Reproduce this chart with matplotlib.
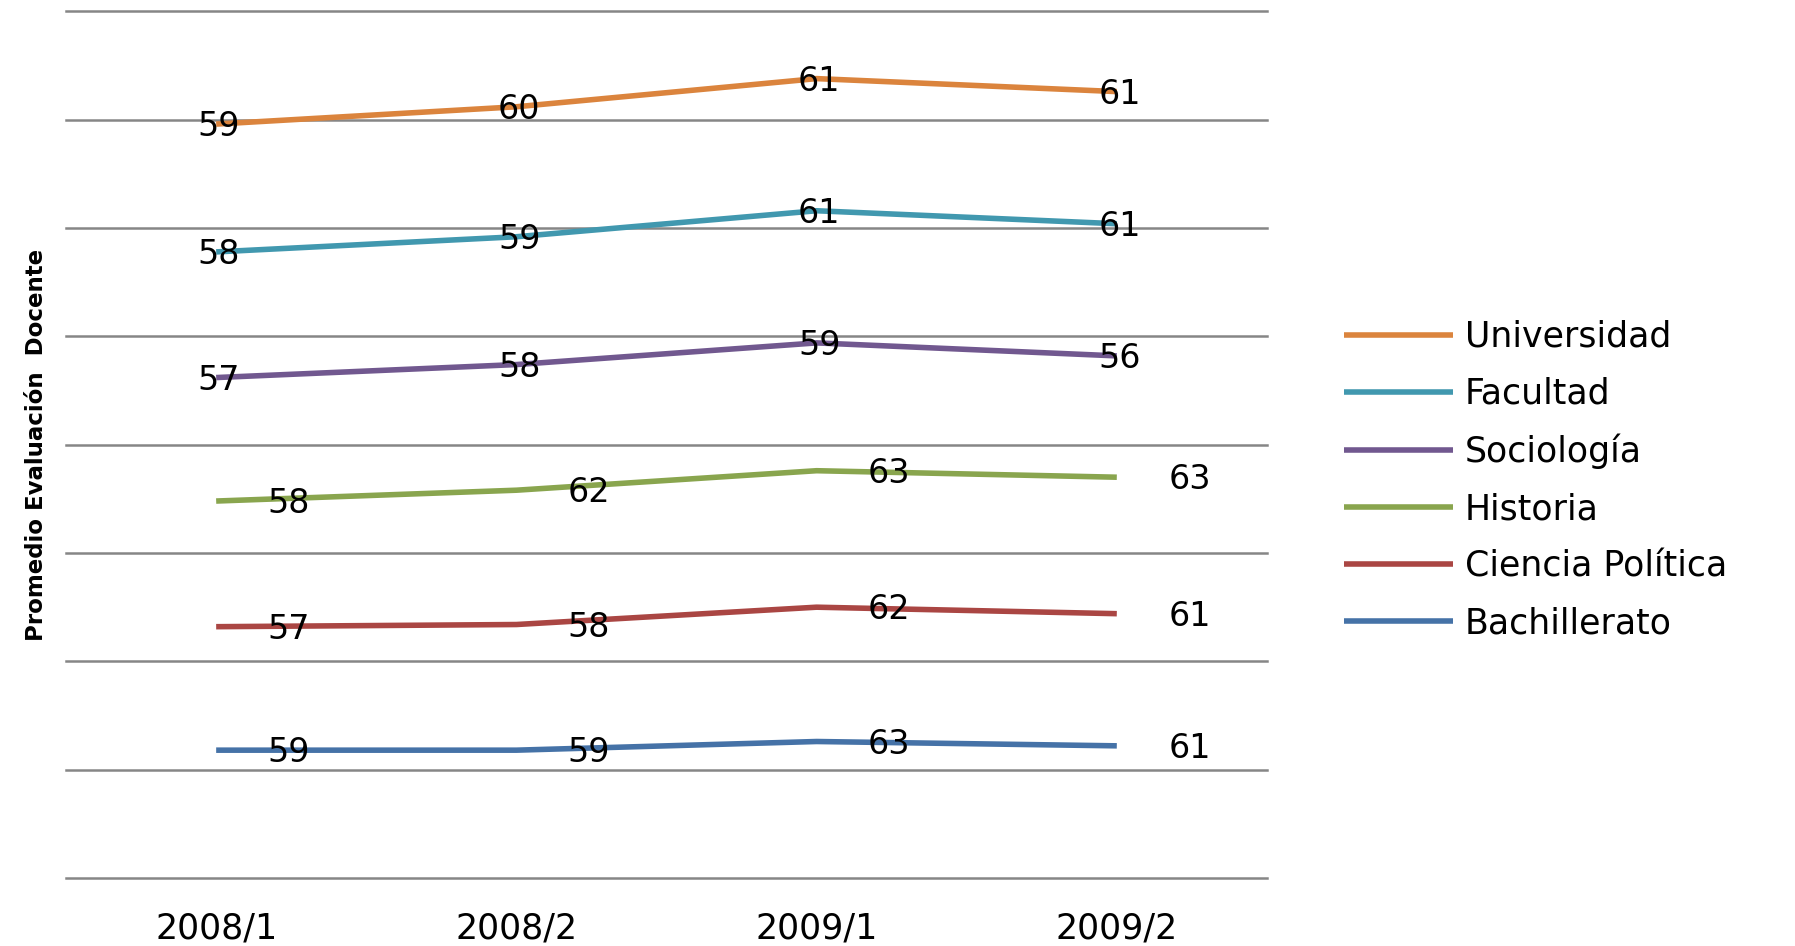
import numpy as np
import matplotlib
matplotlib.use('Agg')
import matplotlib.pyplot as plt

plt.rcParams['font.family'] = ['DejaVu Sans']

# ----------------------
# datos (gráfico de líneas apiladas, estilo Excel)
# ----------------------
periodos = ['2008/1', '2008/2', '2009/1', '2009/2']

bachillerato     = [59, 59, 63, 61]
ciencia_politica = [57, 58, 62, 61]
historia         = [58, 62, 63, 63]
sociologia       = [57, 58, 59, 56]
facultad         = [58, 59, 61, 61]
universidad      = [59, 60, 61, 61]

# orden de apilado: de abajo hacia arriba
series = [
    ('Bachillerato',     bachillerato,     '#4572A7', 'right'),
    ('Ciencia Política', ciencia_politica, '#AA4643', 'right'),
    ('Historia',         historia,         '#89A54E', 'right'),
    ('Sociología',       sociologia,       '#71588F', 'center'),
    ('Facultad',         facultad,         '#4198AF', 'center'),
    ('Universidad',      universidad,      '#DB843D', 'center'),
]

# ----------------------
# figura
# ----------------------
fig = plt.figure(figsize=(17.95, 9.46), dpi=100)
ax = fig.add_axes([0.0368, 0.0719, 0.6690, 0.9160])

x = np.arange(len(periodos))
acum = np.zeros(len(periodos))
lineas = {}
for nombre, vals, color, pos in series:
    acum = acum + np.array(vals)
    ln, = ax.plot(x, acum, color=color, lw=4, solid_capstyle='butt', zorder=3)
    lineas[nombre] = ln
    for xi, yi, v in zip(x, acum, vals):
        if pos == 'center':
            ax.annotate(str(v), (xi, yi), xytext=(2, -2), textcoords='offset points',
                        ha='center', va='center', fontsize=24, color='black', zorder=4)
        else:
            ax.annotate(str(v), (xi, yi), xytext=(37, -2), textcoords='offset points',
                        ha='left', va='center', fontsize=24, color='black', zorder=4)

ax.set_xlim(-0.5, 3.5)
ax.set_ylim(0, 400)
ax.set_yticks(np.arange(0, 401, 50))
ax.yaxis.grid(True, color='#868686', lw=1.8, zorder=0)
for gl in ax.get_ygridlines():
    gl.set_clip_on(False)
ax.set_yticklabels([])
ax.tick_params(axis='y', length=0)
ax.set_xticks(x)
ax.set_xticklabels(periodos, fontsize=25)
ax.tick_params(axis='x', length=0, pad=24)
for s in ax.spines.values():
    s.set_visible(False)

ax.set_ylabel('Promedio Evaluación  Docente', fontsize=16.5, fontweight='bold')
ax.yaxis.set_label_coords(-0.015, 0.5)

# leyenda (de arriba hacia abajo)
orden = ['Universidad', 'Facultad', 'Sociología', 'Historia', 'Ciencia Política', 'Bachillerato']
leg = fig.legend([lineas[n] for n in orden], orden, loc='center left',
                 bbox_to_anchor=(0.749, 0.4926), frameon=False, fontsize=25,
                 handlelength=3.13, handletextpad=0.33, labelspacing=0.66,
                 borderaxespad=0, borderpad=0)

fig.savefig('out.png', dpi=100)
